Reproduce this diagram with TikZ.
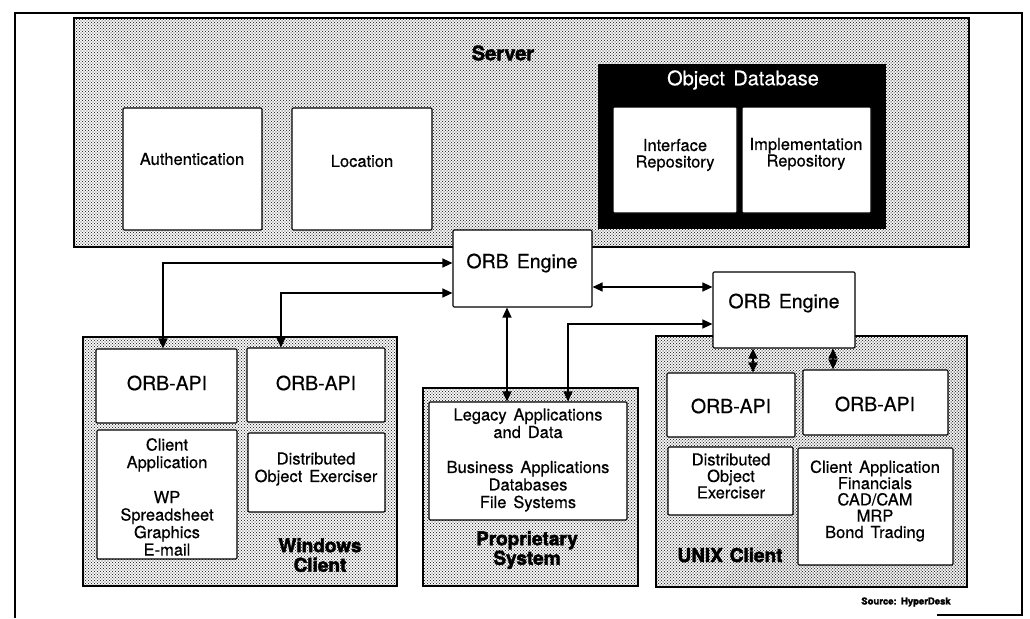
\documentclass[tikz,border=0pt]{standalone}
\usepackage{fontspec}
\setmainfont{TeX Gyre Heros}[WordSpace=1.5,FakeBold=0.5]
\newfontfamily\heavy{TeX Gyre Heros}[FakeBold=2.2,WordSpace=1.3]
\usetikzlibrary{arrows.meta,fit,patterns}

% fine checkerboard of dots used for the shaded regions
\pgfdeclarepatternformonly{finedots}{\pgfqpoint{-0.8pt}{-0.8pt}}{\pgfqpoint{2.2pt}{2.2pt}}{\pgfqpoint{3pt}{3pt}}{%
  \pgfpathcircle{\pgfqpoint{0pt}{0pt}}{0.74pt}%
  \pgfpathcircle{\pgfqpoint{1.5pt}{1.5pt}}{0.74pt}%
  \pgfusepath{fill}}

\begin{document}
\begin{tikzpicture}[x=1pt,y=-1pt,
  region/.style={draw, line width=1.4pt, pattern=finedots, pattern color=black!80, inner sep=0pt},
  box/.style={draw, fill=white, line width=1.1pt, rounded corners=1.2pt, inner sep=0pt},
  darkbox/.style={draw, fill=black, line width=1.1pt, inner sep=0pt},
  body/.style={font=\fontsize{16.5}{17.5}\selectfont, align=center, inner sep=0pt},
  big/.style={font=\fontsize{19.5}{21}\selectfont, align=center, inner sep=0pt},
  heading/.style={font=\heavy\bfseries\fontsize{19}{19.5}\selectfont, align=center, inner sep=0pt},
  link/.style={line width=1.2pt, {Triangle[length=10pt,width=9pt]}-{Triangle[length=10pt,width=9pt]}}]

\useasboundingbox (0,0) rectangle (1030,618);

% outer frame (its bottom edge only survives at the right)
\draw[line width=1.4pt] (15,618) -- (15,13) -- (1022,13) -- (1022,615) -- (937,615);

% ---------------- server ----------------
\node[region, fit={(74,18) (969,247)}] (server) {};
\node[heading, font=\heavy\bfseries\fontsize{20}{21}\selectfont] (serverT) at (503,53) {Server};
\node[box, fit={(123,108) (262,230)}] (auth) {};
\node[body] (authT) at (192,159) {Authentication};
\node[box, fit={(292,108) (432,230)}] (loc) {};
\node[body] (locT) at (362,161) {Location};
\node[darkbox, fit={(599,65) (885,228)}] (odb) {};
\node[big, text=white, font=\fontsize{20}{21}\selectfont] (odbT) at (743,80) {Object Database};
\node[box, fit={(613,107) (737,213)}] (ifr) {};
\node[body, font=\fontsize{16.5}{16.5}\selectfont] (ifrT) at (675,155) {Interface\\Repository};
\node[box, fit={(742,107) (871,213)}] (impl) {};
\node[body, font=\fontsize{16.5}{16.5}\selectfont] (implT) at (806,154) {Implementation\\Repository};

% ---------------- windows client ----------------
\node[region, fit={(83,337) (397,586)}] (win) {};
\node[box, fit={(96,349) (237,423)}] (wapiA) {};
\node[big] (wapiAT) at (167,383) {ORB-API};
\node[box, fit={(247,348) (385,422)}] (wapiB) {};
\node[big] (wapiBT) at (316,383) {ORB-API};
\node[box, fit={(97,430) (237,559)}] (wca) {};
\node[body] (wcaT) at (167,497) {Client\\Application\\[17.5pt]WP\\Spreadsheet\\Graphics\\E-mail};
\node[box, fit={(248,433) (385,512)}] (wdoe) {};
\node[body] (wdoeT) at (316,469) {Distributed\\Object Exerciser};
\node[heading] (winT) at (320,555) {Windows\\Client};

% ---------------- proprietary system ----------------
\node[region, fit={(423,388) (638,586)}] (prop) {};
\node[box, fit={(429,402) (627,520)}] (legacy) {};
\node[body] (legacyT) at (528,460) {Legacy Applications\\and Data\\[17.5pt]Business Applications\\Databases\\File Systems};
\node[heading] (propT) at (527,550) {Proprietary\\System};

% ---------------- unix client ----------------
\node[region, fit={(656,336) (967,587)}] (unix) {};
\node[box, fit={(667,373) (795,437)}] (uapiA) {};
\node[big] (uapiAT) at (731,406) {ORB-API};
\node[box, fit={(803,370) (948,435)}] (uapiB) {};
\node[big] (uapiBT) at (875,404) {ORB-API};
\node[box, fit={(668,447) (793,515)}] (udoe) {};
\node[body, font=\fontsize{16.5}{16.5}\selectfont] (udoeT) at (731,476) {Distributed\\Object\\Exerciser};
\node[box, fit={(798,448) (953,565)}] (uca) {};
\node[body, font=\fontsize{16.5}{16.3}\selectfont] (ucaT) at (875,501) {Client Application\\Financials\\CAD/CAM\\MRP\\Bond Trading};
\node[heading] (unixT) at (730,555) {UNIX Client};

% ---------------- ORB engines ----------------
\node[box, fit={(453,230) (592,307)}] (orbA) {};
\node[big] (orbAT) at (522,263) {ORB Engine};
\node[box, fit={(713,272) (855,348)}] (orbB) {};
\node[big] (orbBT) at (784,303) {ORB Engine};

% ---------------- connectors ----------------
\draw[link] ([yshift=5.5pt]orbA.west) -| ([xshift=-3.5pt]wapiA.north);
\draw[link] ([yshift=-24.5pt]orbA.west) -| ([xshift=-35pt]wapiB.north);
\draw[link] ([xshift=-15.5pt]orbA.south) -- ([xshift=-15.5pt]orbA.south |- legacy.north);
\draw[link] ([yshift=-14pt]orbB.west) -| ([xshift=40pt]legacy.north);
\draw[link] ([yshift=-18.5pt]orbA.east) -- ([yshift=-18.5pt]orbA.east -| orbB.west);
\draw[link] ([xshift=-31pt]orbB.south) -- ([xshift=-31pt]orbB.south |- uapiA.north);
\draw[link] ([xshift=49pt]orbB.south) -- ([xshift=49pt]orbB.south |- uapiB.north);

\node[font=\heavy\bfseries\fontsize{9.5}{11}\selectfont, inner sep=0pt] (src) at (906,602) {Source: HyperDesk};
\end{tikzpicture}
\end{document}
